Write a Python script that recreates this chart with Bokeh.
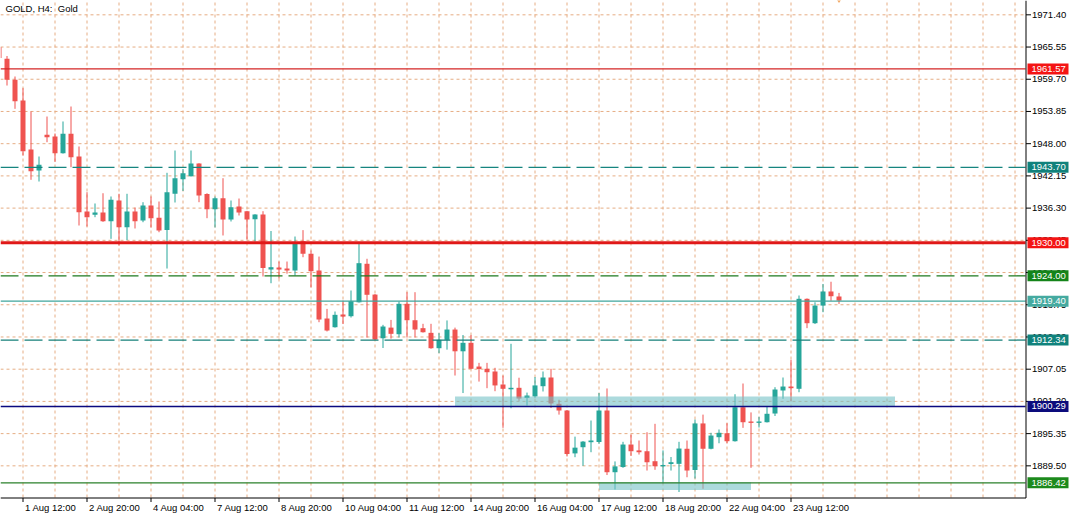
from bokeh.plotting import figure
from bokeh.models import Range1d, ColumnDataSource
from bokeh.core.properties import value
from bokeh.embed import file_html
from bokeh.resources import INLINE

# ---------------- data ----------------
bar_idx = list(range(-3, 103))
opens = [1965.52, 1963.41, 1959.60, 1955.84, 1946.94, 1943.13, 1949.61, 1949.30, 1946.27, 1949.79,
         1945.67, 1935.68, 1935.08, 1935.50, 1933.92, 1937.68, 1932.83, 1935.68, 1934.05, 1936.77,
         1934.54, 1932.32, 1938.90, 1941.55, 1942.10, 1944.40, 1938.86, 1936.10, 1938.10, 1934.23,
         1936.59, 1935.74, 1934.28, 1935.14, 1925.15, 1925.51, 1925.33, 1924.97, 1930.29, 1928.00,
         1924.97, 1916.25, 1914.67, 1916.98, 1916.67, 1919.20, 1926.19, 1920.60, 1912.67, 1914.60,
         1913.40, 1918.92, 1915.94, 1914.50, 1913.65, 1910.86, 1912.38, 1914.25, 1910.30, 1911.84,
         1907.53, 1907.12, 1906.63, 1904.27, 1903.40, 1903.67, 1901.82, 1902.10, 1903.96, 1905.54,
         1900.76, 1899.55, 1891.76, 1892.88, 1893.79, 1893.83, 1899.55, 1888.34, 1889.28, 1893.37,
         1892.30, 1892.15, 1890.34, 1889.40, 1889.83, 1889.86, 1892.60, 1888.74, 1897.20, 1892.60,
         1894.70, 1895.42, 1893.97, 1900.14, 1897.55, 1897.30, 1897.42, 1899.00, 1903.18, 1903.90,
         1903.49, 1919.83, 1915.40, 1918.60, 1921.16, 1920.25]
highs = [1966.00, 1963.92, 1960.20, 1958.07, 1953.84, 1945.67, 1952.93, 1949.85, 1952.03, 1954.75,
         1947.49, 1939.19, 1937.14, 1939.00, 1938.41, 1938.90, 1938.90, 1936.40, 1937.37, 1938.41,
         1937.50, 1942.71, 1946.76, 1943.40, 1946.76, 1944.45, 1939.00, 1938.40, 1941.73, 1937.68,
         1938.04, 1935.80, 1935.20, 1935.74, 1932.14, 1926.60, 1926.60, 1931.14, 1932.30, 1928.60,
         1927.50, 1918.00, 1917.52, 1919.50, 1921.34, 1929.93, 1927.10, 1920.70, 1915.10, 1916.00,
         1919.34, 1921.03, 1921.03, 1915.29, 1915.29, 1913.60, 1915.90, 1914.60, 1913.26, 1913.26,
         1908.20, 1908.20, 1907.30, 1905.90, 1911.66, 1905.50, 1902.80, 1905.63, 1906.63, 1907.12,
         1901.50, 1899.64, 1894.80, 1894.00, 1897.73, 1902.72, 1903.55, 1890.30, 1893.86, 1895.20,
         1894.10, 1895.60, 1897.13, 1892.30, 1891.10, 1893.86, 1894.10, 1897.90, 1898.80, 1895.50,
         1896.10, 1897.24, 1902.50, 1904.45, 1899.20, 1898.40, 1900.27, 1903.78, 1905.54, 1908.75,
         1920.43, 1919.90, 1919.20, 1922.52, 1922.93, 1920.90]
lows = [1963.47, 1958.56, 1954.33, 1945.85, 1941.44, 1941.13, 1948.27, 1944.70, 1946.20, 1943.73,
        1933.14, 1932.96, 1934.65, 1933.80, 1930.72, 1929.50, 1930.50, 1932.60, 1933.74, 1932.78,
        1931.92, 1925.33, 1937.32, 1939.40, 1942.04, 1937.37, 1934.47, 1932.78, 1931.33, 1933.87,
        1934.96, 1930.60, 1930.23, 1923.88, 1922.66, 1923.52, 1924.40, 1924.06, 1927.38, 1921.90,
        1915.58, 1913.90, 1914.60, 1915.25, 1916.43, 1919.15, 1912.80, 1912.38, 1910.90, 1912.60,
        1912.80, 1912.80, 1912.80, 1913.70, 1910.75, 1909.95, 1910.60, 1905.90, 1902.72, 1907.08,
        1904.80, 1903.60, 1903.05, 1896.40, 1899.96, 1901.30, 1900.45, 1901.85, 1903.00, 1900.00,
        1898.80, 1891.20, 1891.07, 1889.50, 1891.97, 1893.50, 1887.83, 1885.20, 1889.14, 1891.30,
        1891.55, 1888.65, 1888.78, 1886.30, 1888.65, 1884.75, 1887.43, 1887.20, 1885.33, 1892.50,
        1893.60, 1893.60, 1893.90, 1896.40, 1889.14, 1896.46, 1897.37, 1898.55, 1901.67, 1901.23,
        1902.87, 1914.50, 1915.25, 1917.40, 1919.47, 1918.90]
closes = [1963.56, 1959.60, 1955.71, 1946.63, 1943.00, 1944.16, 1949.18, 1946.27, 1949.79, 1945.54,
          1935.56, 1934.65, 1935.50, 1933.92, 1937.81, 1932.84, 1935.68, 1933.92, 1936.77, 1934.47,
          1932.23, 1939.19, 1941.73, 1942.64, 1944.40, 1938.59, 1936.10, 1938.10, 1934.23, 1936.46,
          1935.50, 1934.23, 1935.14, 1925.42, 1925.57, 1925.15, 1924.97, 1930.00, 1928.00, 1924.84,
          1916.07, 1914.07, 1916.92, 1916.60, 1919.40, 1926.30, 1920.56, 1912.44, 1914.80, 1913.47,
          1918.92, 1915.94, 1914.25, 1913.76, 1910.86, 1912.38, 1914.25, 1910.30, 1911.84, 1907.12,
          1907.08, 1906.50, 1904.10, 1903.49, 1903.67, 1901.72, 1902.27, 1904.10, 1905.54, 1900.82,
          1899.55, 1891.65, 1892.80, 1893.90, 1894.10, 1899.55, 1888.34, 1889.40, 1893.37, 1892.15,
          1891.97, 1890.15, 1889.43, 1889.65, 1890.16, 1892.64, 1888.65, 1897.20, 1892.60, 1895.00,
          1895.50, 1893.97, 1900.14, 1897.42, 1897.30, 1897.55, 1898.95, 1903.36, 1903.90, 1903.60,
          1919.83, 1915.40, 1918.60, 1921.16, 1920.30, 1919.50]

date_tick_idx = [0, 8, 16, 24, 32, 40, 48, 56, 64, 72, 80, 88, 96]
date_tick_labels = ["1 Aug 12:00", "2 Aug 20:00", "4 Aug 04:00", "7 Aug 12:00", "8 Aug 20:00",
                    "10 Aug 04:00", "11 Aug 12:00", "14 Aug 20:00", "16 Aug 04:00", "17 Aug 12:00",
                    "18 Aug 20:00", "22 Aug 04:00", "23 Aug 12:00"]
grid_idx = list(range(0, 125, 4))
price_ticks = [1971.40, 1965.55, 1959.70, 1953.85, 1948.00, 1942.15, 1936.30, 1930.45,
               1924.60, 1918.75, 1912.90, 1907.05, 1901.20, 1895.35, 1889.50]
price_tick_labels = ["1971.40", "1965.55", "1959.70", "1953.85", "1948.00", "1942.15", "1936.30", "1930.45",
                     "1924.60", "1918.75", "1912.90", "1907.05", "1901.20", "1895.35", "1889.50"]

level_prices = [1961.57, 1943.70, 1930.00, 1924.00, 1919.40, 1912.34, 1900.29, 1886.42]
level_labels = ["1961.57", "1943.70", "1930.00", "1924.00", "1919.40", "1912.34", "1900.29", "1886.42"]
level_line_colors = ["#d42626", "#16857f", "#e01818", "#1f7a1f", "#3fa69c", "#16807a", "#0a0a80", "#2a802a"]
level_line_widths = [1.2, 1.3, 3, 1.3, 1.2, 1.3, 1.5, 1.2]
level_dashes = ["solid", "18 6", "solid", "18 6", "solid", "18 6", "solid", "solid"]
level_box_colors = ["#f41414", "#10827c", "#f41414", "#14841a", "#45aaa0", "#10827c", "#0c0c7c", "#1c8a1c"]

zone_left = [54, 72]
zone_right = [109, 91]
zone_bottom = [1900.35, 1885.10]
zone_top = [1902.10, 1886.50]

marker_x = [102]
marker_y = [1974.2]

title_text = "GOLD, H4:\u00a0 Gold"

# ---------------- layout constants (pixels) ----------------
W, H = 1070, 515
PLOT_W, PLOT_H = 1025, 497      # chart area, axes lie right and below it
BAR_PX = 8                      # horizontal pixels per bar
X0 = -2.8125                    # bar index at the left edge
Y_TOP = 1974.0                  # price at the top edge
Y_BOT_PLOT = 1883.75            # price at the bottom of the chart area
PXU = PLOT_H / (Y_TOP - Y_BOT_PLOT)   # pixels per price unit


def kx(px):
    return X0 + px / BAR_PX


def py(px):
    return Y_TOP - px / PXU


FONT = value("Liberation Sans")
FS = "9.5px"
GRID = "#e6ad84"

p = figure(frame_width=W, frame_height=H,
           x_range=Range1d(kx(0), kx(W)), y_range=Range1d(py(H), Y_TOP),
           x_axis_location=None, y_axis_location=None,
           output_backend="svg", toolbar_location=None,
           min_border=0, background_fill_color="white", border_fill_color="white")
p.outline_line_color = None
p.xgrid.visible = False
p.ygrid.visible = False

x_edge = kx(PLOT_W)
y_edge = Y_BOT_PLOT

# grid
p.segment(x0=grid_idx, y0=[y_edge] * len(grid_idx), x1=grid_idx, y1=[Y_TOP] * len(grid_idx),
          line_color=GRID, line_width=1, line_dash="3 3")
p.segment(x0=[kx(0)] * len(price_ticks), y0=price_ticks, x1=[x_edge] * len(price_ticks), y1=price_ticks,
          line_color=GRID, line_width=1, line_dash="3 3")

# candles
BULL, BEAR = "#26a69a", "#ef5350"
colors = [BULL if c >= o else BEAR for o, c in zip(opens, closes)]
src = ColumnDataSource(dict(
    x=bar_idx, h=highs, l=lows,
    top=[max(o, c) for o, c in zip(opens, closes)],
    bottom=[min(o, c) for o, c in zip(opens, closes)],
    color=colors))
p.segment(x0="x", y0="h", x1="x", y1="l", line_color="color", line_width=1, source=src)
p.vbar(x="x", width=0.625, top="top", bottom="bottom", fill_color="color", line_color=None, source=src)

# zones
p.quad(left=zone_left, right=zone_right, bottom=zone_bottom, top=zone_top,
       fill_color="#75c1c6", fill_alpha=0.6, line_color=None)

# small orange object at top
p.scatter(x=marker_x, y=marker_y, marker="diamond", size=7, fill_color="#f2a55e", line_color=None)

# horizontal levels
for pr, lc, lw, ld in zip(level_prices, level_line_colors, level_line_widths, level_dashes):
    p.segment(x0=[kx(0)], y0=[pr], x1=[x_edge], y1=[pr], line_color=lc, line_width=lw, line_dash=ld)

# axes lines
p.segment(x0=[kx(PLOT_W + 0.5)], y0=[py(PLOT_H + 0.5)], x1=[kx(PLOT_W + 0.5)], y1=[Y_TOP],
          line_color="black", line_width=1)
p.segment(x0=[kx(0)], y0=[py(PLOT_H + 0.5)], x1=[kx(PLOT_W + 0.5)], y1=[py(PLOT_H + 0.5)],
          line_color="black", line_width=1)

# y ticks + labels
n = len(price_ticks)
p.segment(x0=[kx(PLOT_W + 0.5)] * n, y0=price_ticks, x1=[kx(PLOT_W + 5.5)] * n, y1=price_ticks,
          line_color="black", line_width=1)
p.text(x=[kx(PLOT_W + 6.5)] * n, y=price_ticks, text=price_tick_labels,
       text_align="left", text_baseline="middle", text_color="black",
       text_font=FONT, text_font_size=FS)

# x ticks + labels
m = len(date_tick_idx)
p.segment(x0=date_tick_idx, y0=[py(PLOT_H + 0.5)] * m, x1=date_tick_idx, y1=[py(PLOT_H + 4.5)] * m,
          line_color="black", line_width=1)
p.text(x=[k + 2 / BAR_PX for k in date_tick_idx], y=[py(506.5)] * m, text=date_tick_labels,
       text_align="left", text_baseline="middle", text_color="black",
       text_font=FONT, text_font_size=FS)

# price boxes on the right axis
half = 5.5 / PXU
nb = len(level_prices)
p.quad(left=[kx(PLOT_W + 2)] * nb, right=[kx(PLOT_W + 43)] * nb,
       bottom=[v - half for v in level_prices], top=[v + half for v in level_prices],
       fill_color=level_box_colors, line_color=None)
p.text(x=[kx(PLOT_W + 6)] * nb, y=level_prices, text=level_labels,
       text_align="left", text_baseline="middle", text_color="white",
       text_font=FONT, text_font_size=FS)

# title
p.text(x=[kx(5)], y=[py(7.5)], text=[title_text], text_align="left", text_baseline="middle",
       text_color="black", text_font=FONT, text_font_size=FS)

open("out.html", "w").write(file_html(p, INLINE))
